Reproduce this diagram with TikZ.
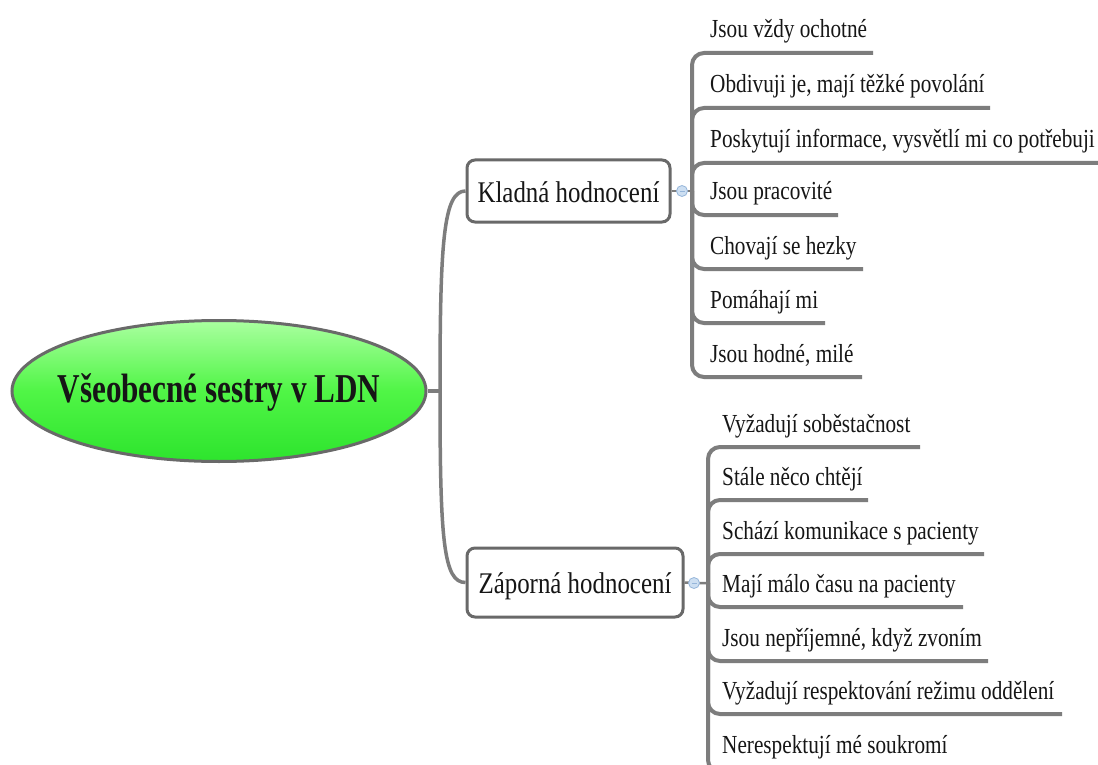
\documentclass[tikz,border=0pt]{standalone}
\usepackage{fontspec}
\setmainfont{Liberation Serif}
\newfontfamily\itemfont[FakeStretch=0.817]{Liberation Serif}
\newfontfamily\parentfont[FakeStretch=0.83]{Liberation Serif}
\newfontfamily\titlefont[FakeStretch=0.76]{Liberation Serif}
\usetikzlibrary{shapes.geometric}
\definecolor{linegray}{RGB}{125,125,125}
\definecolor{boxgray}{RGB}{105,105,105}
\definecolor{txt}{RGB}{22,22,22}
\definecolor{cfill}{RGB}{205,223,242}
\definecolor{cdraw}{RGB}{150,182,218}
\definecolor{gtop}{RGB}{170,255,160}
\definecolor{gmid}{RGB}{80,245,70}
\definecolor{gbot}{RGB}{45,228,45}
\begin{document}
\begin{tikzpicture}[x=1pt,y=-1pt,
  itemtext/.style={font=\itemfont\fontsize{26}{30}\selectfont, text=txt, anchor=base west, inner sep=0pt},
  parentbox/.style={draw=boxgray, line width=3pt, rounded corners=8pt, fill=white, inner sep=0pt,
    font=\parentfont\fontsize{30}{34}\selectfont, text=txt, text height=22pt, text depth=0pt},
  branch/.style={draw=linegray, line width=4pt, rounded corners=12pt},
  trunk/.style={draw=linegray, line width=3.5pt},
  collapse/.style={circle, minimum size=11pt, inner sep=0pt, fill=cfill, draw=cdraw, line width=0.8pt,
    path picture={\draw[cdraw, line width=0.8pt] ([xshift=-2.5pt]path picture bounding box.center) -- ([xshift=2.5pt]path picture bounding box.center);}},
  rootnode/.style={ellipse, draw=boxgray, line width=3pt, minimum width=414pt, minimum height=141pt, inner sep=0pt,
    top color=gtop, bottom color=gbot, middle color=gmid,
    font=\titlefont\bfseries\fontsize{41}{46}\selectfont, text=txt, text height=28pt, text depth=6pt}
]
\clip (0,0) rectangle (1098,765);
\fill[white] (0,0) rectangle (1098,765);

% root
\node[rootnode] (root) at (219,391) {\makebox[0pt]{Všeobecné sestry v LDN}};
\coordinate (lt) at (440,391);

% parent boxes
\node[parentbox, minimum width=203pt, minimum height=62pt] (kb) at (568.5,191) {Kladná hodnocení};
\node[parentbox, minimum width=216pt, minimum height=69pt] (zb) at (575,582.5) {Záporná hodnocení};

% left bracket
\draw[trunk] (root.east) -- (lt);
\draw[trunk] (kb.west) .. controls +(-22,0) and +(0,-150) .. (lt);
\draw[trunk] (zb.west) .. controls +(-22,0) and +(0,150) .. (lt);

% Kladna children
\coordinate (kt) at (692,191);
\coordinate (k1e) at (873,53);
\coordinate (k2e) at (990,108);
\coordinate (k3e) at (1102,163);
\coordinate (k4e) at (838,215);
\coordinate (k5e) at (863,269);
\coordinate (k6e) at (825,323);
\coordinate (k7e) at (862,377);
\foreach \e in {k1e,k2e,k3e,k4e,k5e,k6e,k7e} \draw[branch] (kt) |- (\e);

\node[itemtext] (k1) at (710,38) {Jsou vždy ochotné};
\node[itemtext] (k2) at (710,93) {Obdivuji je, mají těžké povolání};
\node[itemtext] (k3) at (710,148) {Poskytují informace, vysvětlí mi co potřebuji};
\node[itemtext] (k4) at (710,200) {Jsou pracovité};
\node[itemtext] (k5) at (710,254) {Chovají se hezky};
\node[itemtext] (k6) at (710,308) {Pomáhají mi};
\node[itemtext] (k7) at (710,362) {Jsou hodné, milé};

\coordinate (kc0) at (682,191);
\draw[trunk, line width=2.5pt] (kb.east) -- (kc0) -- (kt);
\node[collapse] (kc) at (kc0) {};

% Zaporna children
\coordinate (zt) at (708,583);
\coordinate (z1e) at (920,447);
\coordinate (z2e) at (868,500);
\coordinate (z3e) at (984,554);
\coordinate (z4e) at (963,607);
\coordinate (z5e) at (988,661);
\coordinate (z6e) at (1062,714);
\coordinate (z7e) at (1000,772);
\foreach \e in {z1e,z2e,z3e,z4e,z5e,z6e,z7e} \draw[branch] (zt) |- (\e);

\node[itemtext] (z1) at (722,432) {Vyžadují soběstačnost};
\node[itemtext] (z2) at (722,485) {Stále něco chtějí};
\node[itemtext] (z3) at (722,539) {Schází komunikace s pacienty};
\node[itemtext] (z4) at (722,592) {Mají málo času na pacienty};
\node[itemtext] (z5) at (722,646) {Jsou nepříjemné, když zvoním};
\node[itemtext] (z6) at (722,699) {Vyžadují respektování režimu oddělení};
\node[itemtext] (z7) at (722,753) {Nerespektují mé soukromí};

\coordinate (zc0) at (694,583);
\draw[trunk, line width=2.5pt] (zb.east) -- (zc0) -- (zt);
\node[collapse] (zc) at (zc0) {};
\end{tikzpicture}
\end{document}
